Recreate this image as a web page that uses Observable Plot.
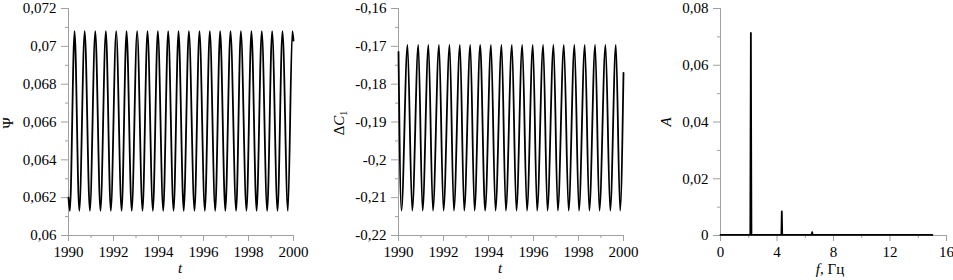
<!DOCTYPE html>
<html><head><meta charset="utf-8">
<script src="https://cdn.jsdelivr.net/npm/d3@7"></script>
<script src="https://cdn.jsdelivr.net/npm/@observablehq/plot@0.6"></script>
<style>
body{margin:0;background:#fff;}
#wrap{position:relative;width:953px;height:280px;overflow:hidden;background:#fff;}
.panel{position:absolute;top:0;}
#wrap svg, #wrap svg text{font-family:"Liberation Serif","Times New Roman",serif !important;}
#wrap svg g[aria-label$="tick label"] text{font-size:15px !important;font-family:"Liberation Serif" !important;}
</style></head><body><div id="wrap"></div>
<script>
// Panel 1: Ψ(t) — extrema
const psiT = [1990.00, 1990.06, 1990.27, 1990.48, 1990.72, 1990.95, 1991.19, 1991.42, 1991.66, 1991.88,
  1992.12, 1992.36, 1992.58, 1992.81, 1993.05, 1993.29, 1993.51, 1993.75, 1993.97, 1994.21,
  1994.43, 1994.67, 1994.89, 1995.12, 1995.35, 1995.60, 1995.82, 1996.06, 1996.28, 1996.52,
  1996.74, 1996.97, 1997.20, 1997.45, 1997.66, 1997.91, 1998.13, 1998.36, 1998.59, 1998.83,
  1999.05, 1999.29, 1999.51, 1999.75, 1999.95, 2000.00];
const psiV = [0.0620, 0.0613, 0.0708, 0.0613, 0.0708, 0.0613, 0.0708, 0.0613, 0.0708, 0.0613,
  0.0708, 0.0613, 0.0708, 0.0613, 0.0708, 0.0613, 0.0708, 0.0613, 0.0708, 0.0613,
  0.0708, 0.0613, 0.0708, 0.0613, 0.0708, 0.0613, 0.0708, 0.0613, 0.0708, 0.0613,
  0.0708, 0.0613, 0.0708, 0.0613, 0.0708, 0.0613, 0.0708, 0.0613, 0.0708, 0.0613,
  0.0708, 0.0613, 0.0708, 0.0613, 0.0708, 0.0703];

// Panel 2: ΔC1(t)
const dcT = [1990.00, 1990.13, 1990.40, 1990.61, 1990.88, 1991.07, 1991.33, 1991.53, 1991.80, 1992.00,
  1992.27, 1992.46, 1992.73, 1992.92, 1993.19, 1993.38, 1993.63, 1993.85, 1994.11, 1994.31,
  1994.58, 1994.77, 1995.04, 1995.24, 1995.50, 1995.71, 1995.97, 1996.16, 1996.43, 1996.62,
  1996.89, 1997.08, 1997.35, 1997.56, 1997.82, 1998.02, 1998.28, 1998.48, 1998.74, 1998.93,
  1999.20, 1999.41, 1999.66, 1999.85, 2000.00];
const dcV = [-0.1715, -0.2134, -0.1696, -0.2134, -0.1696, -0.2134, -0.1696, -0.2134, -0.1696, -0.2134,
  -0.1696, -0.2134, -0.1696, -0.2134, -0.1696, -0.2134, -0.1696, -0.2134, -0.1696, -0.2134,
  -0.1696, -0.2134, -0.1696, -0.2134, -0.1696, -0.2134, -0.1696, -0.2134, -0.1696, -0.2134,
  -0.1696, -0.2134, -0.1696, -0.2134, -0.1696, -0.2134, -0.1696, -0.2134, -0.1696, -0.2134,
  -0.1696, -0.2134, -0.1696, -0.2134, -0.1770];

// Panel 3: spectrum A(f)
const specF = [0, 2.11, 2.15, 2.19, 4.31, 4.34, 4.37, 6.46, 6.49, 6.52, 15];
const specA = [0.0002, 0.0002, 0.0714, 0.0002, 0.0002, 0.0085, 0.0002, 0.0002, 0.0012, 0.0002, 0.0002];

// Ticks
const yearMajor = [1990, 1992, 1994, 1996, 1998, 2000];
const yearMinor = [1991, 1993, 1995, 1997, 1999];
const psiMajor = [0.06, 0.062, 0.064, 0.066, 0.068, 0.07, 0.072];
const psiMinor = [0.061, 0.063, 0.065, 0.067, 0.069, 0.071];
const dcMajor = [-0.16, -0.17, -0.18, -0.19, -0.2, -0.21, -0.22];
const dcMinor = [-0.165, -0.175, -0.185, -0.195, -0.205, -0.215];
const fMajor = [0, 4, 8, 12, 16];
const fMinor = [2, 6, 10, 14];
const aMajor = [0, 0.02, 0.04, 0.06, 0.08];
const aMinor = [0.01, 0.03, 0.05, 0.07];

const FONT = "Liberation Serif";
const GRAY = "#a0a0a0";
const fmt = d => String(d).replace(".", ",");

function panel(o) {
  const svg = Plot.plot({
    width: o.width, height: 280,
    marginLeft: o.ml, marginRight: o.mr, marginTop: 8, marginBottom: 45,
    style: {fontSize: "15px", color: "#000", background: "transparent", overflow: "visible"},
    x: {domain: o.xDomain, axis: null},
    y: {domain: o.yDomain, axis: null},
    marks: [
      Plot.ruleX([o.xDomain[0]], {stroke: GRAY}),
      Plot.ruleY([o.yDomain[0]], {stroke: GRAY}),
      Plot.axisY(o.yMajor, {tickSize: 7, tickPadding: 5, stroke: GRAY, fill: "#000", tickFormat: fmt, label: null, fontFamily: FONT, fontSize: 15}),
      Plot.axisY(o.yMinor, {tickSize: 3, stroke: GRAY, fill: "none", label: null}),
      Plot.axisX(o.xMajor, {tickSize: 6, tickPadding: 5, stroke: GRAY, fill: "#000", tickFormat: fmt, label: null, fontFamily: FONT, fontSize: 15}),
      Plot.axisX(o.xMinor, {tickSize: 3, stroke: GRAY, fill: "none", label: null}),
      Plot.line(o.data, {x: "x", y: "y", stroke: "#000", strokeWidth: o.sw, curve: o.curve})
    ]
  });
  const div = document.createElement("div");
  div.className = "panel";
  div.style.left = o.left + "px";
  div.style.width = o.width + "px";
  div.appendChild(svg);
  document.getElementById("wrap").appendChild(div);
  return d3.select(svg);
}

const zip = (a, b) => a.map((v, i) => ({x: v, y: b[i]}));

const s1 = panel({left: 0, width: 320, ml: 68, mr: 27, xDomain: [1990, 2000], yDomain: [0.06, 0.072],
  xMajor: yearMajor, xMinor: yearMinor, yMajor: psiMajor, yMinor: psiMinor,
  data: zip(psiT, psiV), sw: 1.8, curve: "monotone-x"});
const s2 = panel({left: 320, width: 320, ml: 78, mr: 17, xDomain: [1990, 2000], yDomain: [-0.22, -0.16],
  xMajor: yearMajor, xMinor: yearMinor, yMajor: dcMajor, yMinor: dcMinor,
  data: zip(dcT, dcV), sw: 1.8, curve: "monotone-x"});
const s3 = panel({left: 640, width: 313, ml: 80, mr: 7, xDomain: [0, 16], yDomain: [0, 0.08],
  xMajor: fMajor, xMinor: fMinor, yMajor: aMajor, yMinor: aMinor,
  data: zip(specF, specA), sw: 1.8, curve: "linear"});

function title(sel, x, y, rot, parts) {
  const t = sel.append("text")
    .attr("transform", `translate(${x},${y})` + (rot ? " rotate(-90)" : ""))
    .attr("text-anchor", "middle")
    .attr("font-size", 15).attr("fill", "#000");
  for (const p of parts) {
    const ts = t.append("tspan").text(p.t);
    if (p.i) ts.attr("font-style", "italic");
    if (p.sub) ts.attr("font-size", 10).attr("dy", 3);
  }
}
title(s1, 13, 123, true, [{t: "Ψ"}]);
title(s1, 180, 273, false, [{t: "t", i: true}]);
title(s2, 24, 123, true, [{t: "Δ"}, {t: "C", i: true}, {t: "1", sub: true}]);
title(s2, 180, 273, false, [{t: "t", i: true}]);
title(s3, 31, 122, true, [{t: "A", i: true}]);
title(s3, 190, 274, false, [{t: "f", i: true}, {t: ", Гц"}]);
</script></body></html>
